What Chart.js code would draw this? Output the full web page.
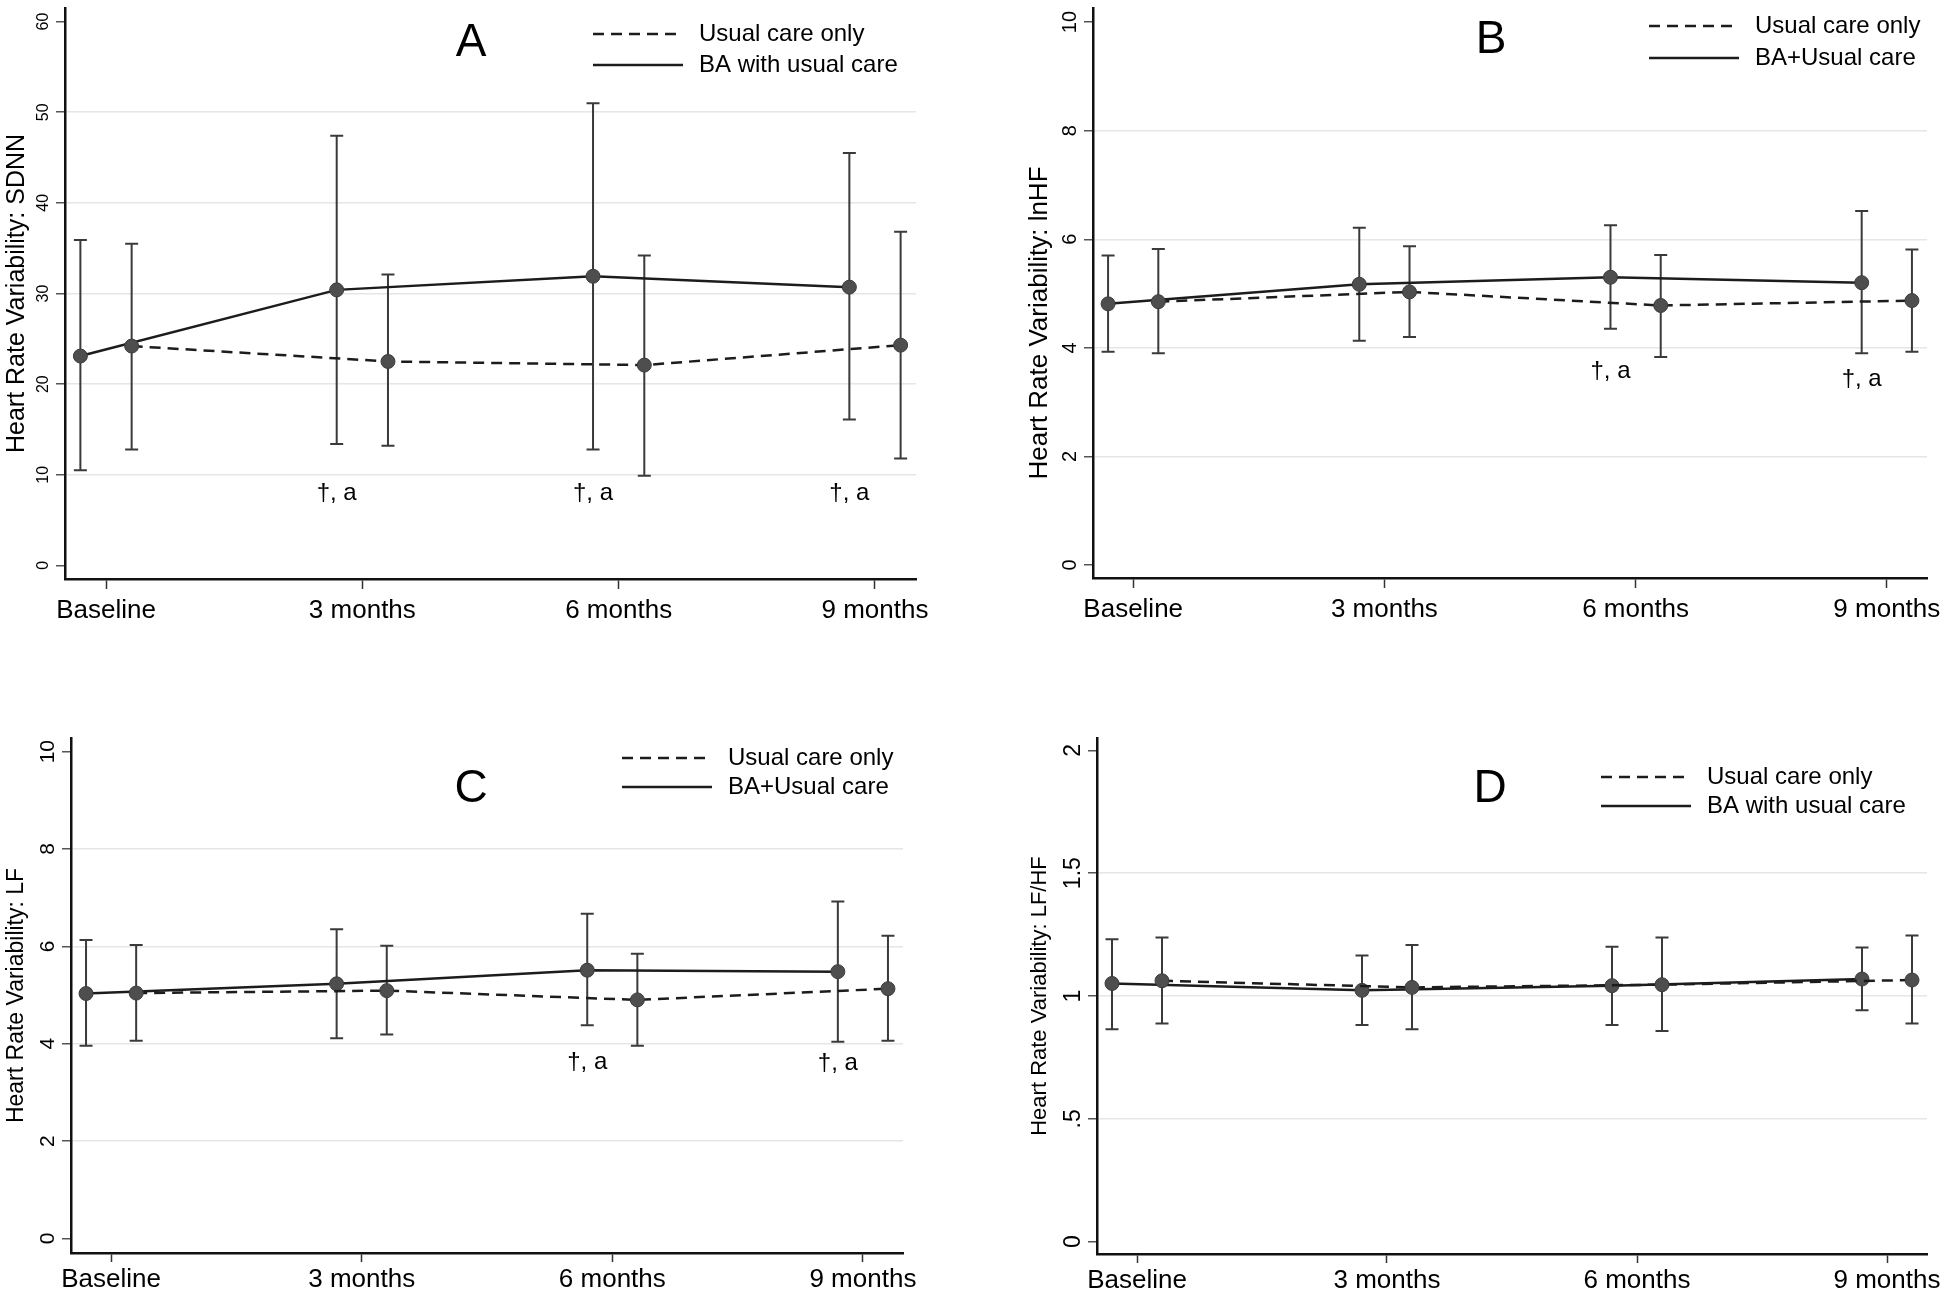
<!DOCTYPE html>
<html>
<head>
<meta charset="utf-8">
<script src="https://cdn.jsdelivr.net/npm/chart.js@4.4.1/dist/chart.umd.min.js"></script>
<style>
  body { margin: 0; background: #fff; }
  canvas { position: absolute; }
</style>
</head>
<body>
<canvas id="chartA" width="972" height="646" style="left:0;top:0"></canvas>
<canvas id="chartB" width="972" height="646" style="left:972px;top:0"></canvas>
<canvas id="chartC" width="972" height="646" style="left:0;top:646px"></canvas>
<canvas id="chartD" width="972" height="646" style="left:972px;top:646px"></canvas>
<script>
const timepoints = ['Baseline', '3 months', '6 months', '9 months'];

// A: SDNN
const sdnnUsual = [24.2, 22.5, 22.1, 24.3];
const sdnnUsualLow = [12.8, 13.2, 9.9, 11.8];
const sdnnUsualHigh = [35.5, 32.1, 34.2, 36.8];
const sdnnBA = [23.1, 30.4, 31.9, 30.7];
const sdnnBALow = [10.5, 13.4, 12.8, 16.1];
const sdnnBAHigh = [35.9, 47.4, 51.0, 45.5];
const sdnnTicks = [0, 10, 20, 30, 40, 50, 60];
const sdnnTickLabels = ['0', '10', '20', '30', '40', '50', '60'];
const sdnnSigIdx = [1, 2, 3];
const sdnnSigY = [8, 8, 8];

// B: lnHF
const hfUsual = [4.85, 5.03, 4.78, 4.87];
const hfUsualLow = [3.90, 4.20, 3.83, 3.93];
const hfUsualHigh = [5.82, 5.87, 5.71, 5.81];
const hfBA = [4.81, 5.17, 5.30, 5.20];
const hfBALow = [3.93, 4.13, 4.35, 3.90];
const hfBAHigh = [5.70, 6.21, 6.26, 6.52];
const hfTicks = [0, 2, 4, 6, 8, 10];
const hfTickLabels = ['0', '2', '4', '6', '8', '10'];
const hfSigIdx = [2, 3];
const hfSigY = [3.57, 3.42];

// C: LF
const lfUsual = [5.04, 5.09, 4.90, 5.13];
const lfUsualLow = [4.06, 4.19, 3.96, 4.06];
const lfUsualHigh = [6.03, 6.01, 5.85, 6.22];
const lfBA = [5.03, 5.23, 5.51, 5.48];
const lfBALow = [3.96, 4.11, 4.38, 4.04];
const lfBAHigh = [6.13, 6.35, 6.67, 6.92];
const lfTicks = [0, 2, 4, 6, 8, 10];
const lfTickLabels = ['0', '2', '4', '6', '8', '10'];
const lfSigIdx = [2, 3];
const lfSigY = [3.62, 3.60];

// D: LF/HF
const ratioUsual = [1.062, 1.035, 1.046, 1.065];
const ratioUsualLow = [0.888, 0.865, 0.858, 0.888];
const ratioUsualHigh = [1.238, 1.208, 1.238, 1.246];
const ratioBA = [1.051, 1.023, 1.042, 1.069];
const ratioBALow = [0.865, 0.882, 0.882, 0.942];
const ratioBAHigh = [1.231, 1.165, 1.200, 1.197];
const ratioTicks = [0, 0.5, 1, 1.5, 2];
const ratioTickLabels = ['0', '.5', '1', '1.5', '2'];
const ratioSigIdx = [];
const ratioSigY = [];

const FONT = '"Liberation Sans", Arial, Helvetica, sans-serif';
const OFFSET = 0.1; // groups are dodged left/right of each time point

// draws the Stata-like extras: error bars, rotated y labels, title, legend, letter, notes
function stataPlugin(p) {
  return {
    id: 'stata',
    beforeDatasetsDraw(chart) {
      const { ctx, scales: { x, y } } = chart;
      ctx.save();
      ctx.strokeStyle = '#3a3a3a';
      ctx.lineWidth = 2;
      chart.data.datasets.forEach(ds => {
        ds.data.forEach((pt, i) => {
          const px = x.getPixelForValue(pt.x);
          const top = y.getPixelForValue(ds.errHigh[i]);
          const bot = y.getPixelForValue(ds.errLow[i]);
          ctx.beginPath();
          ctx.moveTo(px, top); ctx.lineTo(px, bot);
          ctx.moveTo(px - 6.5, top); ctx.lineTo(px + 6.5, top);
          ctx.moveTo(px - 6.5, bot); ctx.lineTo(px + 6.5, bot);
          ctx.stroke();
        });
      });
      ctx.restore();
    },
    afterDraw(chart) {
      const { ctx, chartArea: ca, scales: { x, y } } = chart;
      ctx.save();
      ctx.fillStyle = '#000';

      // y tick labels, rotated
      ctx.font = p.tickFont + 'px ' + FONT;
      ctx.textAlign = 'center';
      ctx.textBaseline = 'alphabetic';
      p.yTicks.forEach((v, i) => {
        ctx.save();
        ctx.translate(ca.left - 17, y.getPixelForValue(v));
        ctx.rotate(-Math.PI / 2);
        ctx.fillText(p.yTickLabels[i], 0, 0);
        ctx.restore();
      });

      // y title
      ctx.font = p.titleFont + 'px ' + FONT;
      ctx.textBaseline = 'middle';
      ctx.save();
      ctx.translate(p.titleX, (ca.top + ca.bottom) / 2 + p.titleShift);
      ctx.rotate(-Math.PI / 2);
      ctx.fillText(p.yTitle, 0, 0);
      ctx.restore();

      // panel letter
      ctx.font = '46px ' + FONT;
      ctx.fillText(p.letter, p.letterX, p.letterY);

      // significance notes
      ctx.font = '24px ' + FONT;
      p.sigIdx.forEach((idx, i) => {
        ctx.fillText('\u2020, a', x.getPixelForValue(idx - OFFSET), y.getPixelForValue(p.sigY[i]));
      });

      // legend
      ctx.textAlign = 'left';
      chart.data.datasets.forEach((ds, i) => {
        const ly = p.legY + i * p.legGap;
        ctx.save();
        ctx.strokeStyle = ds.borderColor;
        ctx.lineWidth = 2.5;
        ctx.setLineDash(ds.borderDash || []);
        ctx.beginPath();
        ctx.moveTo(p.legX, ly); ctx.lineTo(p.legX + 90, ly);
        ctx.stroke();
        ctx.restore();
        ctx.fillText(ds.label, p.legX + 106, ly);
      });
      ctx.restore();
    }
  };
}

function points(vals, shift) {
  return timepoints.map((t, i) => ({ x: i + shift, y: vals[i] }));
}

function makePanel(id, p) {
  const n = p.yTicks.length;
  new Chart(document.getElementById(id), {
    type: 'line',
    data: {
      datasets: [{
        label: 'Usual care only',
        data: points(p.usual, OFFSET),
        errLow: p.usualLow, errHigh: p.usualHigh,
        borderColor: '#1c1c1c', borderWidth: 2.5, borderDash: [11, 7],
        pointRadius: 7, pointBackgroundColor: '#4e4e4e', pointBorderColor: '#3c3c3c', pointBorderWidth: 1,
        tension: 0
      }, {
        label: p.baLabel,
        data: points(p.ba, -OFFSET),
        errLow: p.baLow, errHigh: p.baHigh,
        borderColor: '#1c1c1c', borderWidth: 2.5,
        pointRadius: 7, pointBackgroundColor: '#4e4e4e', pointBorderColor: '#3c3c3c', pointBorderWidth: 1,
        tension: 0
      }]
    },
    options: {
      responsive: false,
      animation: false,
      events: [],
      layout: { padding: { left: 0, top: p.padT, right: p.padR, bottom: 0 } },
      plugins: { legend: { display: false }, tooltip: { enabled: false } },
      scales: {
        x: {
          type: 'linear', min: -0.16, max: 3.16,
          afterBuildTicks: s => { s.ticks = timepoints.map((t, i) => ({ value: i })); },
          afterFit: s => { s.height = p.xH; s.paddingLeft = 0; s.paddingRight = 0; },
          grid: { drawOnChartArea: false, drawTicks: true, tickLength: p.xTick, tickColor: '#333', tickWidth: 1.5 },
          border: { display: true, color: '#111', width: 2.5 },
          ticks: {
            callback: v => timepoints[v], color: '#000', padding: p.xPad,
            maxRotation: 0, autoSkip: false, font: { size: 26, family: FONT }
          }
        },
        y: {
          min: p.yMin, max: p.yMax,
          afterBuildTicks: s => { s.ticks = p.yTicks.map(v => ({ value: v })); },
          afterFit: s => { s.width = p.yW; s.paddingTop = 0; s.paddingBottom = 0; },
          grid: {
            color: c => (c.index > 0 && c.index < n - 1) ? '#e6e6e6' : 'rgba(0,0,0,0)',
            lineWidth: 1.5, drawTicks: true, tickLength: 9, tickColor: '#555', tickWidth: 1.5
          },
          border: { display: true, color: '#111', width: 2.5 },
          ticks: { display: false }
        }
      }
    },
    plugins: [stataPlugin(p)]
  });
}

makePanel('chartA', {
  usual: sdnnUsual, usualLow: sdnnUsualLow, usualHigh: sdnnUsualHigh,
  ba: sdnnBA, baLow: sdnnBALow, baHigh: sdnnBAHigh, baLabel: 'BA with usual care',
  yTicks: sdnnTicks, yTickLabels: sdnnTickLabels, sigIdx: sdnnSigIdx, sigY: sdnnSigY,
  yMin: -1.5, yMax: 61.5, yTitle: 'Heart Rate Variability: SDNN', letter: 'A',
  yW: 65, padR: 56, padT: 2, xH: 67, xTick: 10, xPad: 6,
  tickFont: 16, titleFont: 25, titleX: 17, titleShift: 0,
  letterX: 471, letterY: 43, legX: 593, legY: 34, legGap: 31
});

makePanel('chartB', {
  usual: hfUsual, usualLow: hfUsualLow, usualHigh: hfUsualHigh,
  ba: hfBA, baLow: hfBALow, baHigh: hfBAHigh, baLabel: 'BA+Usual care',
  yTicks: hfTicks, yTickLabels: hfTickLabels, sigIdx: hfSigIdx, sigY: hfSigY,
  yMin: -0.24, yMax: 10.26, yTitle: 'Heart Rate Variability: lnHF', letter: 'B',
  yW: 121, padR: 17, padT: 2, xH: 68, xTick: 10, xPad: 6,
  tickFont: 20, titleFont: 26, titleX: 68, titleShift: 30,
  letterX: 519, letterY: 40, legX: 677, legY: 26, legGap: 32
});

makePanel('chartC', {
  usual: lfUsual, usualLow: lfUsualLow, usualHigh: lfUsualHigh,
  ba: lfBA, baLow: lfBALow, baHigh: lfBAHigh, baLabel: 'BA+Usual care',
  yTicks: lfTicks, yTickLabels: lfTickLabels, sigIdx: lfSigIdx, sigY: lfSigY,
  yMin: -0.3, yMax: 10.28, yTitle: 'Heart Rate Variability: LF', letter: 'C',
  yW: 71, padR: 69, padT: 92, xH: 39, xTick: 9, xPad: 2,
  tickFont: 21, titleFont: 23, titleX: 17, titleShift: 0,
  letterX: 471, letterY: 143, legX: 622, legY: 112, legGap: 29
});

makePanel('chartD', {
  usual: ratioUsual, usualLow: ratioUsualLow, usualHigh: ratioUsualHigh,
  ba: ratioBA, baLow: ratioBALow, baHigh: ratioBAHigh, baLabel: 'BA with usual care',
  yTicks: ratioTicks, yTickLabels: ratioTickLabels, sigIdx: ratioSigIdx, sigY: ratioSigY,
  yMin: -0.05, yMax: 2.05, yTitle: 'Heart Rate Variability: LF/HF', letter: 'D',
  yW: 125, padR: 17, padT: 92, xH: 38, xTick: 9, xPad: 2,
  tickFont: 23, titleFont: 22, titleX: 68, titleShift: 0,
  letterX: 518, letterY: 143, legX: 629, legY: 131, legGap: 29
});
</script>
</body>
</html>
